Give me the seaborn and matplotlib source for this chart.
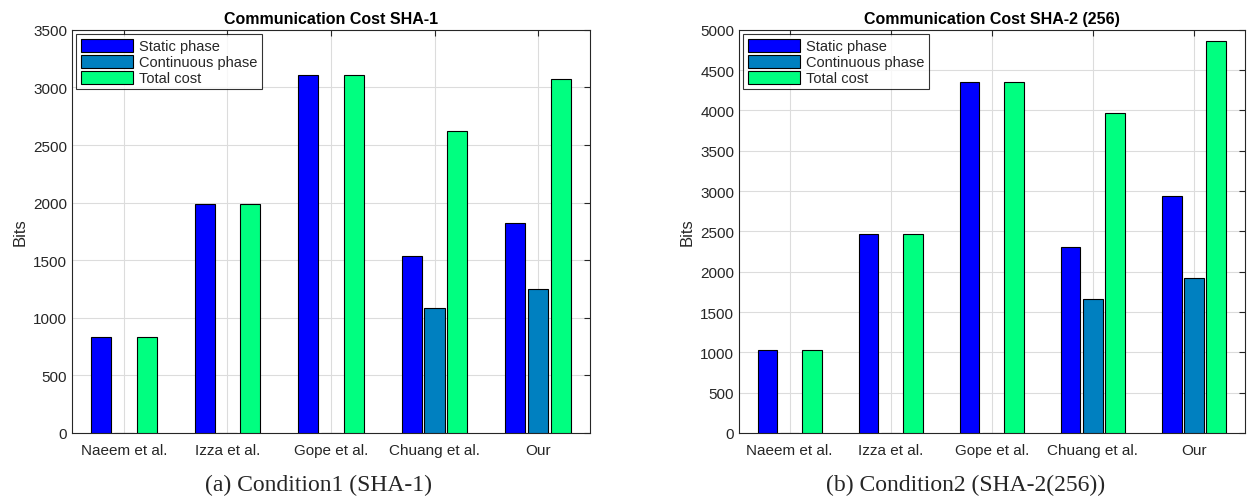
import pandas as pd
import matplotlib
matplotlib.use("Agg")
import matplotlib.pyplot as plt
import seaborn as sbn

schemes = ['Naeem et al.', 'Izza et al.', 'Gope et al.', 'Chuang et al.', 'Our']
phases = ['Static phase', 'Continuous phase', 'Total cost']

# SHA-1
sha1_static = [832, 1984, 3104, 1536, 1824]
sha1_continuous = [0, 0, 0, 1088, 1248]
sha1_total = [832, 1984, 3104, 2624, 3072]

# SHA-2 (256)
sha2_static = [1024, 2464, 4352, 2304, 2944]
sha2_continuous = [0, 0, 0, 1664, 1920]
sha2_total = [1024, 2464, 4352, 3968, 4864]

colors = ['#0000FF', '#0080C0', '#00FF80']


def to_long(static, cont, total):
    rows = []
    for name, vals in zip(phases, [static, cont, total]):
        for s, v in zip(schemes, vals):
            rows.append({'scheme': s, 'phase': name, 'bits': v})
    return pd.DataFrame(rows)


df1 = to_long(sha1_static, sha1_continuous, sha1_total)
df2 = to_long(sha2_static, sha2_continuous, sha2_total)

sbn.set_style('white')
plt.rcParams['font.family'] = ['Liberation Sans', 'DejaVu Sans']

fig = plt.figure(figsize=(12.49, 5.02), dpi=100)
ax1 = fig.add_axes([0.0576, 0.1355, 0.4147, 0.803])
ax2 = fig.add_axes([0.5917, 0.1355, 0.4047, 0.803])

for ax, df, title, ymax in [(ax1, df1, 'Communication Cost SHA-1', 3500),
                            (ax2, df2, 'Communication Cost SHA-2 (256)', 5000)]:
    sbn.barplot(data=df, x='scheme', y='bits', hue='phase', order=schemes, hue_order=phases,
                palette=colors, saturation=1, width=0.66, gap=0.12, edgecolor='black',
                linewidth=0.8, errorbar=None, ax=ax, zorder=3)
    ax.set_ylim(0, ymax)
    ax.set_xlim(-0.5, 4.5)
    ax.set_yticks(range(0, ymax + 1, 500))
    ax.set_xlabel('')
    ax.set_ylabel('Bits', fontsize=12, color='#262626')
    ax.set_title(title, fontsize=11.5, fontweight='bold', pad=5, color='black')
    ax.grid(True, color='#dcdcdc', linewidth=0.8, zorder=0)
    ax.set_axisbelow(True)
    ax.tick_params(direction='in', top=True, right=True, labelsize=11, length=4,
                   colors='#262626', labelcolor='#262626')
    ax.tick_params(axis='x', pad=7)
    for sp in ax.spines.values():
        sp.set_color('#262626')
        sp.set_linewidth(0.8)
    leg = ax.legend(loc='upper left', fontsize=10.5, frameon=True, fancybox=False,
                    edgecolor='black', handlelength=3.6, handleheight=1.0,
                    borderaxespad=0.3, labelspacing=0.1, handletextpad=0.4,
                    borderpad=0.3)
    leg.get_frame().set_linewidth(0.8)
    leg.set_title(None)

fig.text(0.255, 0.033, '(a) Condition1 (SHA-1)', ha='center', va='center',
         fontsize=17, family='Liberation Serif')
fig.text(0.773, 0.033, '(b) Condition2 (SHA-2(256))', ha='center', va='center',
         fontsize=17, family='Liberation Serif')

fig.savefig('out.png', dpi=100)
